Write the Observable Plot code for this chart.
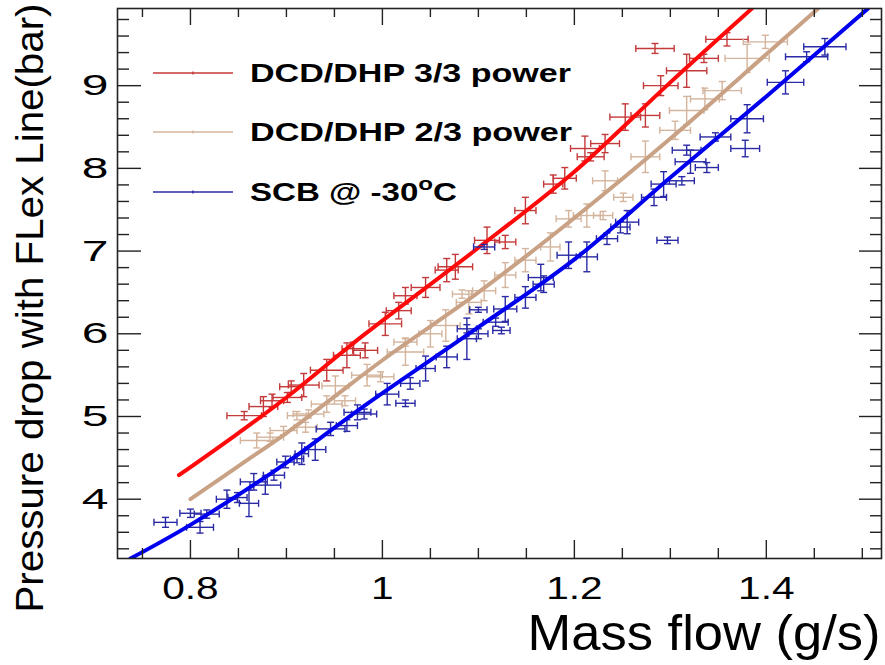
<!DOCTYPE html>
<html><head><meta charset="utf-8">
<script src="https://cdn.jsdelivr.net/npm/d3@7"></script>
<script src="https://cdn.jsdelivr.net/npm/@observablehq/plot@0.6"></script>
<style>body{margin:0;background:#fff}</style>
</head><body><div id="chart"></div>
<script>
// ---- data: DCD/DHP 3/3 power ----
const redX  = [0.856,0.876,0.885,0.901,0.905,0.918,0.942,0.963,0.970,0.982,1.003,1.017,1.024,1.045,1.067,1.076,1.109,1.128,1.149,1.178,1.190,1.211,1.217,1.232,1.253,1.274,1.284,1.290,1.317,1.335,1.359];
const redY  = [5.01,5.12,5.19,5.23,5.36,5.38,5.56,5.74,5.82,5.80,6.12,6.28,6.46,6.56,6.77,6.81,7.13,7.11,7.49,7.81,7.88,8.24,8.14,8.30,8.62,8.64,9.45,9.00,9.18,9.33,9.56];
const redXe = [.018,.015,.012,.015,.012,.016,.017,.014,.012,.013,.017,.013,.012,.015,.012,.018,.013,.011,.011,.010,.012,.015,.014,.015,.016,.015,.020,.018,.021,.015,.022];
const redYe = [.05,.12,.08,.06,.07,.14,.13,.15,.08,.09,.14,.10,.10,.12,.14,.15,.16,.08,.16,.11,.13,.15,.05,.11,.16,.14,.06,.12,.20,.05,.08];
// ---- data: DCD/DHP 2/3 power ----
const tanX  = [0.869,0.883,0.897,0.911,0.920,0.923,0.942,0.951,0.961,0.984,0.998,1.024,1.024,1.050,1.066,1.083,1.090,1.106,1.128,1.149,1.175,1.194,1.213,1.230,1.232,1.251,1.274,1.305,1.317,1.336,1.354,1.380,1.399];
const tanY  = [4.71,4.75,4.83,5.01,4.87,5.03,5.15,5.37,5.19,5.50,5.48,5.78,5.90,6.00,6.10,6.48,6.38,6.52,6.71,6.89,7.05,7.39,7.43,7.43,7.85,7.65,8.14,8.46,8.70,8.84,8.94,9.33,9.53];
const tanXe = [.017,.014,.014,.010,.012,.016,.016,.014,.011,.016,.014,.019,.012,.012,.015,.010,.013,.012,.011,.011,.010,.013,.014,.010,.013,.010,.015,.016,.018,.015,.020,.023,.023];
const tanYe = [.09,.05,.05,.05,.06,.05,.10,.12,.06,.13,.06,.16,.05,.16,.19,.05,.14,.12,.15,.14,.17,.10,.14,.05,.12,.05,.19,.11,.17,.13,.11,.17,.08];
// ---- data: SCB @ -30°C ----
const bluX  = [0.774,0.800,0.810,0.817,0.838,0.849,0.861,0.866,0.878,0.887,0.899,0.911,0.916,0.930,0.946,0.963,0.974,0.981,1.005,1.024,1.029,1.045,1.067,1.088,1.088,1.100,1.100,1.106,1.118,1.124,1.128,1.149,1.165,1.168,1.194,1.213,1.234,1.248,1.255,1.283,1.293,1.297,1.312,1.317,1.321,1.338,1.347,1.378,1.380,1.420,1.442,1.461];
const bluY  = [3.72,3.83,3.66,3.82,4.00,4.02,3.95,4.21,4.17,4.29,4.45,4.49,4.55,4.60,4.85,4.89,5.05,5.03,5.27,5.16,5.40,5.58,5.72,5.94,6.06,6.00,6.29,7.05,6.14,6.04,6.30,6.44,6.68,6.60,6.95,6.93,7.15,7.29,7.35,7.65,7.81,7.13,7.85,8.22,8.08,8.01,8.38,8.24,8.60,9.04,9.35,9.47];
const bluXe = [.012,.011,.014,.013,.011,.010,.010,.014,.016,.011,.009,.007,.007,.011,.015,.011,.014,.013,.012,.010,.010,.010,.011,.010,.010,.010,.009,.011,.013,.009,.012,.011,.013,.011,.012,.011,.011,.010,.012,.013,.013,.011,.013,.015,.016,.012,.016,.015,.017,.019,.022,.022];
const bluYe = [.06,.05,.07,.05,.11,.06,.16,.10,.11,.06,.07,.05,.13,.13,.08,.07,.09,.06,.13,.04,.07,.15,.13,.25,.05,.06,.03,.03,.05,.04,.15,.13,.16,.10,.16,.18,.07,.07,.14,.10,.15,.04,.05,.06,.14,.06,.05,.10,.17,.14,.06,.10];
// ---- fitted curves ----
const redFitX = [0.788,0.85,0.90,0.98,1.10,1.20,1.30,1.385];
const redFitY = [4.29,4.80,5.23,5.98,7.04,7.96,9.04,9.933];
const tanFitX = [0.80,0.85,0.90,0.95,1.00,1.10,1.20,1.30,1.40,1.454];
const tanFitY = [4.00,4.40,4.80,5.24,5.68,6.50,7.40,8.36,9.38,9.933];
const bluFitX = [0.7375,0.80,0.90,0.98,1.10,1.20,1.30,1.40,1.506];
const bluFitY = [3.283,3.69,4.44,5.12,6.08,6.90,7.89,8.87,9.933];
// ---- labels ----
const seriesNames = ["DCD/DHP 3/3 power","DCD/DHP 2/3 power","SCB @ -30"];
const xMajor = [0.8,1.0,1.2,1.4];
const xTickLabels = ["0.8","1","1.2","1.4"];
const yMajor = [4,5,6,7,8,9];
const yTickLabels = ["4","5","6","7","8","9"];
const xTitle = "Mass flow (g/s)";
const yTitle = "Pressure drop with FLex Line(bar)";

const errColors = ["#c43a3a","#d4b49c","#2a2aa6"];
const fitColors = ["#ff0a0a","#c9a185","#0000ee"];

const W=885,H=665,mL=117,mR=4,mT=8,mB=107;
const fw=W-mL-mR, fh=H-mT-mB;
const xDom=[0.724,1.520], yDom=[3.283,9.933];
const capYu = 3.5*(yDom[1]-yDom[0])/fh;
const capXu = 3.5*(xDom[1]-xDom[0])/fw;

const xMinor = d3.range(15,31).map(i=>+(i*0.05).toFixed(2)).filter(v=>!xMajor.some(m=>Math.abs(m-v)<1e-9));
const yMinor = d3.range(17,50).map(i=>+(i*0.2).toFixed(1)).filter(v=>!yMajor.includes(v));

function rows(X,Y,XE,YE){return X.map((x,i)=>({x,y:Y[i],xe:XE[i],ye:YE[i]}));}
function fit(X,Y){return X.map((x,i)=>({x,y:Y[i]}));}
function errMarks(r,c){
  const o={stroke:c,strokeWidth:1.4,clip:true};
  return [
    Plot.link(r,{x1:d=>d.x-d.xe,x2:d=>d.x+d.xe,y1:"y",y2:"y",...o}),
    Plot.link(r,{x1:"x",x2:"x",y1:d=>d.y-d.ye,y2:d=>d.y+d.ye,...o}),
    Plot.link(r,{x1:d=>d.x-d.xe,x2:d=>d.x-d.xe,y1:d=>d.y-capYu,y2:d=>d.y+capYu,...o}),
    Plot.link(r,{x1:d=>d.x+d.xe,x2:d=>d.x+d.xe,y1:d=>d.y-capYu,y2:d=>d.y+capYu,...o}),
    Plot.link(r,{x1:d=>d.x-capXu,x2:d=>d.x+capXu,y1:d=>d.y-d.ye,y2:d=>d.y-d.ye,...o}),
    Plot.link(r,{x1:d=>d.x-capXu,x2:d=>d.x+capXu,y1:d=>d.y+d.ye,y2:d=>d.y+d.ye,...o})
  ];
}
const series=[
  {r:rows(redX,redY,redXe,redYe),f:fit(redFitX,redFitY)},
  {r:rows(tanX,tanY,tanXe,tanYe),f:fit(tanFitX,tanFitY)},
  {r:rows(bluX,bluY,bluXe,bluYe),f:fit(bluFitX,bluFitY)}
];
const marks=[];
series.forEach((s,i)=>{
  marks.push(...errMarks(s.r,errColors[i]));
  marks.push(Plot.line(s.f,{x:"x",y:"y",stroke:fitColors[i],strokeWidth:4,curve:"catmull-rom",clip:true}));
});
const tk="#222";
marks.push(
  Plot.tickX(xMajor,{x:d=>d,insetTop:fh-18,stroke:tk,strokeWidth:1.4}),
  Plot.tickX(xMajor,{x:d=>d,insetBottom:fh-17,stroke:tk,strokeWidth:1.4}),
  Plot.tickX(xMinor,{x:d=>d,insetTop:fh-10,stroke:tk,strokeWidth:1.4}),
  Plot.tickX(xMinor,{x:d=>d,insetBottom:fh-9,stroke:tk,strokeWidth:1.4}),
  Plot.tickY(yMajor,{y:d=>d,insetRight:fw-24,stroke:tk,strokeWidth:1.4}),
  Plot.tickY(yMajor,{y:d=>d,insetLeft:fw-22,stroke:tk,strokeWidth:1.4}),
  Plot.tickY(yMinor,{y:d=>d,insetRight:fw-12,stroke:tk,strokeWidth:1.4}),
  Plot.tickY(yMinor,{y:d=>d,insetLeft:fw-11,stroke:tk,strokeWidth:1.4}),
  Plot.frame({stroke:tk,strokeWidth:1.6}),
  Plot.text(xMajor,{x:d=>d,text:(d,i)=>xTickLabels[i],frameAnchor:"bottom",dy:40,lineAnchor:"bottom",fontSize:32,fill:"#000"}),
  Plot.text(yMajor,{y:d=>d,text:(d,i)=>yTickLabels[i],frameAnchor:"left",dx:-9,textAnchor:"end",lineAnchor:"middle",fontSize:30,fill:"#000"}),
  Plot.text([xTitle],{text:d=>d,frameAnchor:"bottom-right",dx:-1,dy:91,textAnchor:"end",lineAnchor:"bottom",fontSize:50,fill:"#000"}),
  Plot.text([yTitle],{text:d=>d,frameAnchor:"bottom-left",rotate:-90,textAnchor:"start",lineAnchor:"bottom",dx:-75,dy:54,fontSize:38,fill:"#000"})
);

const chart=Plot.plot({
  width:W,height:H,marginLeft:mL,marginRight:mR,marginTop:mT,marginBottom:mB,
  x:{domain:xDom,axis:null},y:{domain:yDom,axis:null},
  style:{fontFamily:"'Liberation Sans', Arial, sans-serif",background:"#fff",overflow:"visible"},
  marks
});
document.getElementById("chart").append(chart);

// stretch text to match the reference's wide glyphs
const svg=d3.select(chart);
const factors={"32":1.27,"30":1.6,"50":1.05};
svg.selectAll("g[aria-label=text]").each(function(){
  const fs=this.getAttribute("font-size");
  d3.select(this).selectAll("text").each(function(){
    const L=this.getComputedTextLength();
    if(fs==="38"){this.setAttribute("textLength",609);}
    else if(factors[fs]){this.setAttribute("textLength",L*factors[fs]);}
    this.setAttribute("lengthAdjust","spacingAndGlyphs");
  });
});

// legend
const lg=svg.append("g").attr("font-family","'Liberation Sans', Arial, sans-serif").attr("font-weight","bold").attr("font-size",26).attr("text-anchor","start");
const legY=[73,132,192], legW=[321,322,207];
seriesNames.forEach((n,i)=>{
  const y=legY[i];
  lg.append("line").attr("x1",153).attr("x2",233).attr("y1",y).attr("y2",y).attr("stroke",errColors[i]).attr("stroke-width",1.6);
  lg.append("line").attr("x1",193).attr("x2",193).attr("y1",y-1.5).attr("y2",y+1.5).attr("stroke",errColors[i]).attr("stroke-width",1.4);
  const t=lg.append("text").attr("x",250).attr("y",y+9).attr("fill","#000").attr("text-anchor","start");
  t.append("tspan").text(n);
  if(i===2){
    t.append("tspan").attr("dy",-11).attr("font-size",19).text("o");
    t.append("tspan").attr("dy",11).text("C");
  }
  t.attr("textLength",legW[i]).attr("lengthAdjust","spacingAndGlyphs");
});
</script>
</body></html>
